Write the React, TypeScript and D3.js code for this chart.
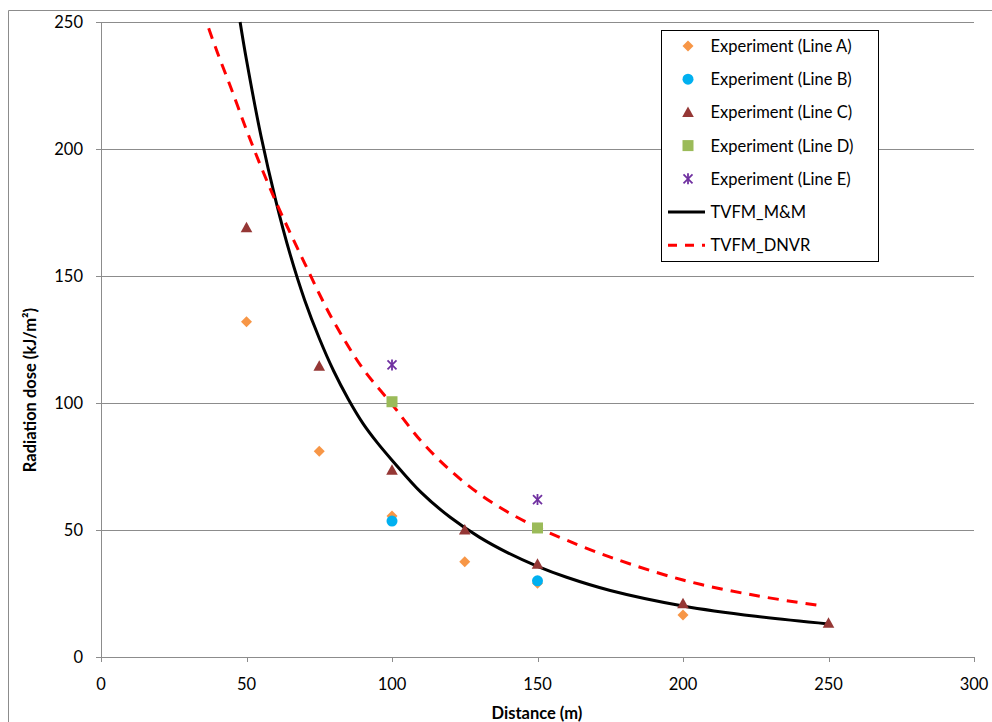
import React from "react";
import * as d3 from "d3";

// Measured radiation dose by distance for each experimental line
const lineA = [
  { x: 50, y: 132 },
  { x: 75, y: 81 },
  { x: 100, y: 55.5 },
  { x: 125, y: 37.5 },
  { x: 150, y: 29 },
  { x: 200, y: 16.5 },
];
const lineB = [
  { x: 100, y: 53.5 },
  { x: 150, y: 30 },
];
const lineC = [
  { x: 50, y: 169 },
  { x: 75, y: 114.5 },
  { x: 100, y: 73.5 },
  { x: 125, y: 50 },
  { x: 150, y: 36.5 },
  { x: 200, y: 21 },
  { x: 250, y: 13.3 },
];
const lineD = [
  { x: 100, y: 100.5 },
  { x: 150, y: 50.8 },
];
const lineE = [
  { x: 100, y: 115 },
  { x: 150, y: 62 },
];

// Model predictions
const tvfmMM = [
  { x: 47.8, y: 250 },
  { x: 50, y: 235 },
  { x: 55, y: 205 },
  { x: 60, y: 180 },
  { x: 65, y: 158.5 },
  { x: 70, y: 140.5 },
  { x: 75, y: 125.5 },
  { x: 80, y: 112.5 },
  { x: 85, y: 101.5 },
  { x: 90, y: 92 },
  { x: 95, y: 84.3 },
  { x: 100, y: 77.5 },
  { x: 110, y: 64.8 },
  { x: 120, y: 55 },
  { x: 130, y: 47.2 },
  { x: 140, y: 40.9 },
  { x: 150, y: 35.7 },
  { x: 160, y: 31.4 },
  { x: 175, y: 26.2 },
  { x: 200, y: 20.1 },
  { x: 225, y: 16 },
  { x: 250, y: 13 },
];
const tvfmDNVR = [
  { x: 37, y: 247.5 },
  { x: 40, y: 238 },
  { x: 45, y: 223 },
  { x: 50, y: 207.5 },
  { x: 55, y: 193 },
  { x: 60, y: 179.5 },
  { x: 65, y: 167 },
  { x: 70, y: 155 },
  { x: 75, y: 143 },
  { x: 80, y: 132 },
  { x: 90, y: 113.5 },
  { x: 100, y: 99.5 },
  { x: 110, y: 85 },
  { x: 120, y: 73.5 },
  { x: 130, y: 64.2 },
  { x: 140, y: 56.9 },
  { x: 150, y: 51 },
  { x: 160, y: 46 },
  { x: 175, y: 39.3 },
  { x: 200, y: 30.3 },
  { x: 225, y: 24.2 },
  { x: 248, y: 20.1 },
];

const xTicks = [0, 50, 100, 150, 200, 250, 300];
const yTicks = [0, 50, 100, 150, 200, 250];

const legendLabels = [
  "Experiment (Line A)",
  "Experiment (Line B)",
  "Experiment (Line C)",
  "Experiment (Line D)",
  "Experiment (Line E)",
  "TVFM_M&M",
  "TVFM_DNVR",
];

const ORANGE = "#F79646";
const BLUE = "#00B0F0";
const BROWN = "#953735";
const GREEN = "#9BBB59";
const PURPLE = "#7030A0";
const GRID = "#8c8c8c";
const FONT = "Lato, 'Open Sans', sans-serif";

type MarkerKind = "diamond" | "circle" | "triangle" | "square" | "star";

function Marker({ kind, cx, cy }: { kind: MarkerKind; cx: number; cy: number }) {
  switch (kind) {
    case "diamond":
      return (
        <path
          d={`M${cx},${cy - 5.5}L${cx + 5.5},${cy}L${cx},${cy + 5.5}L${cx - 5.5},${cy}Z`}
          fill={ORANGE}
        />
      );
    case "circle":
      return <circle cx={cx} cy={cy} r={5.5} fill={BLUE} />;
    case "triangle":
      return (
        <path
          d={`M${cx},${cy - 6}L${cx + 5.8},${cy + 4.5}L${cx - 5.8},${cy + 4.5}Z`}
          fill={BROWN}
        />
      );
    case "square":
      return <rect x={cx - 5.5} y={cy - 5.5} width={11} height={11} fill={GREEN} />;
    case "star":
      return (
        <g stroke={PURPLE} strokeWidth={1.8}>
          <line x1={cx - 4.5} y1={cy - 4.5} x2={cx + 4.5} y2={cy + 4.5} />
          <line x1={cx - 4.5} y1={cy + 4.5} x2={cx + 4.5} y2={cy - 4.5} />
          <line x1={cx} y1={cy - 5.5} x2={cx} y2={cy + 5.5} />
        </g>
      );
  }
}

export default function App() {
  const x = d3.scaleLinear().domain([0, 300]).range([101, 974]);
  const y = d3.scaleLinear().domain([0, 250]).range([657, 22]);

  const line = d3
    .line<{ x: number; y: number }>()
    .x((d) => x(d.x))
    .y((d) => y(d.y))
    .curve(d3.curveCatmullRom.alpha(0.5));

  const series: { data: { x: number; y: number }[]; kind: MarkerKind }[] = [
    { data: lineA, kind: "diamond" },
    { data: lineB, kind: "circle" },
    { data: lineC, kind: "triangle" },
    { data: lineD, kind: "square" },
    { data: lineE, kind: "star" },
  ];

  const legendX = 661.5;
  const legendY = 30.5;
  const rowY = (i: number) => 46 + i * 33.2;

  return (
    <svg
      width={992}
      height={722}
      style={{ position: "absolute", left: 0, top: 0, background: "#fff" }}
      fontFamily={FONT}
    >
      {/* chart frame */}
      <path d="M8.5,730V10.5H1000" fill="none" stroke={GRID} strokeWidth={1} />

      {/* gridlines */}
      {yTicks
        .filter((t) => t > 0)
        .map((t) => (
          <line
            key={`g${t}`}
            x1={x(0)}
            x2={x(300)}
            y1={Math.round(y(t)) + 0.5}
            y2={Math.round(y(t)) + 0.5}
            stroke={GRID}
            strokeWidth={1}
          />
        ))}

      {/* axes */}
      <line x1={x(0) + 0.5} x2={x(0) + 0.5} y1={y(250)} y2={y(0)} stroke={GRID} />
      <line x1={x(0)} x2={x(300)} y1={y(0) + 0.5} y2={y(0) + 0.5} stroke={GRID} />
      {yTicks.map((t) => (
        <g key={`yt${t}`}>
          <line
            x1={x(0) - 5}
            x2={x(0)}
            y1={Math.round(y(t)) + 0.5}
            y2={Math.round(y(t)) + 0.5}
            stroke={GRID}
          />
          <text
            x={83}
            y={y(t)}
            dy="0.36em"
            textAnchor="end"
            fontSize={16.5}
            fill="#000"
          >
            {t}
          </text>
        </g>
      ))}
      {xTicks.map((t) => (
        <g key={`xt${t}`}>
          <line
            x1={Math.round(x(t)) + 0.5}
            x2={Math.round(x(t)) + 0.5}
            y1={y(0)}
            y2={y(0) + 5}
            stroke={GRID}
          />
          <text x={x(t)} y={690} textAnchor="middle" fontSize={16.5} fill="#000">
            {t}
          </text>
        </g>
      ))}

      {/* axis titles */}
      <text
        x={537}
        y={719}
        textAnchor="middle"
        fontSize={16.5}
        fontWeight="bold"
        fill="#000"
      >
        Distance (m)
      </text>
      <text
        transform="translate(36,390) rotate(-90)"
        textAnchor="middle"
        fontSize={16.5}
        fontWeight="bold"
        fill="#000"
      >
        Radiation dose (kJ/m²)
      </text>

      {/* model curves */}
      <path d={line(tvfmMM) ?? ""} fill="none" stroke="#000" strokeWidth={3} />
      <path
        d={line(tvfmDNVR) ?? ""}
        fill="none"
        stroke="#FF0000"
        strokeWidth={3}
        strokeDasharray="11,8"
      />

      {/* experimental points */}
      {series.map((s) =>
        s.data.map((d, i) => (
          <Marker key={`${s.kind}${i}`} kind={s.kind} cx={x(d.x)} cy={y(d.y)} />
        ))
      )}

      {/* legend */}
      <rect
        x={legendX}
        y={legendY}
        width={217}
        height={231}
        fill="#fff"
        stroke="#000"
        strokeWidth={1}
      />
      {series.map((s, i) => (
        <g key={`lg${i}`}>
          <Marker kind={s.kind} cx={688} cy={rowY(i)} />
          <text x={710.5} y={rowY(i)} dy="0.36em" fontSize={16.5} fill="#000">
            {legendLabels[i]}
          </text>
        </g>
      ))}
      <line x1={668} x2={705} y1={rowY(5)} y2={rowY(5)} stroke="#000" strokeWidth={3} />
      <text x={710.5} y={rowY(5)} dy="0.36em" fontSize={16.5} fill="#000">
        {legendLabels[5]}
      </text>
      <line
        x1={668}
        x2={705}
        y1={rowY(6)}
        y2={rowY(6)}
        stroke="#FF0000"
        strokeWidth={3}
        strokeDasharray="9,8"
      />
      <text x={710.5} y={rowY(6)} dy="0.36em" fontSize={16.5} fill="#000">
        {legendLabels[6]}
      </text>
    </svg>
  );
}
